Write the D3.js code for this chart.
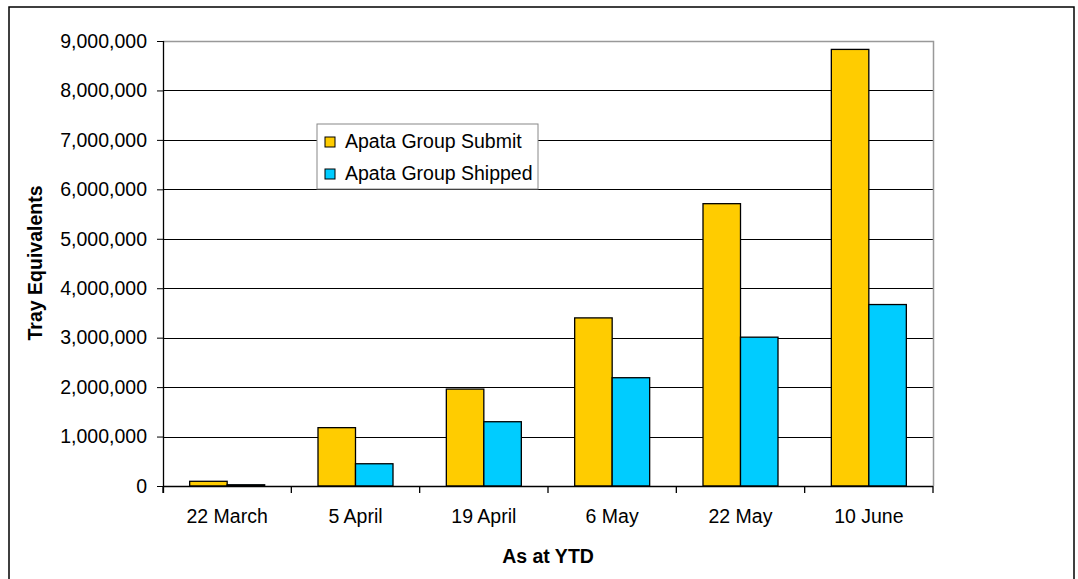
<!DOCTYPE html>
<html>
<head>
<meta charset="utf-8">
<script src="https://cdn.jsdelivr.net/npm/d3@7/dist/d3.min.js"></script>
<style>
  html, body { margin: 0; padding: 0; background: #fff; }
  svg { display: block; font-family: Arial, "Liberation Sans", sans-serif; }
</style>
</head>
<body>
<svg id="chart" width="1078" height="579"></svg>
<script>
const categories = ["22 March", "5 April", "19 April", "6 May", "22 May", "10 June"];
const seriesNames = ["Apata Group Submit", "Apata Group Shipped"];
const submitValues = [95000, 1180000, 1960000, 3400000, 5710000, 8830000];
const shippedValues = [25000, 450000, 1300000, 2190000, 3010000, 3670000];
const yTicks = [0, 1000000, 2000000, 3000000, 4000000, 5000000, 6000000, 7000000, 8000000, 9000000];
const seriesColors = ["#FFCC00", "#00CCFF"];
const yTitle = "Tray Equivalents";
const xTitle = "As at YTD";

const FS = 19.5;
const svg = d3.select("#chart");
const plot = { left: 163, right: 933, top: 41, bottom: 486 };

// outer border
svg.append("rect")
  .attr("x", 9).attr("y", 7)
  .attr("width", 1065).attr("height", 620)
  .attr("fill", "#fff").attr("stroke", "#000").attr("stroke-width", 1.5);

const y = d3.scaleLinear().domain([0, 9000000]).range([plot.bottom, plot.top]);
const p = 1 - 75 / ((plot.right - plot.left) / categories.length);
const x0 = d3.scaleBand().domain(categories).range([plot.left, plot.right])
  .paddingInner(p).paddingOuter(p / 2);
const x1 = d3.scaleBand().domain(seriesNames).range([0, x0.bandwidth()]);

// gridlines
svg.append("g").selectAll("line").data(yTicks.filter(d => d > 0 && d < 9000000)).join("line")
  .attr("x1", plot.left).attr("x2", plot.right)
  .attr("y1", d => Math.round(y(d)) + 0.5).attr("y2", d => Math.round(y(d)) + 0.5)
  .attr("stroke", "#000").attr("stroke-width", 1);

// plot area top & right border (grey)
svg.append("path")
  .attr("d", `M${plot.left},${plot.top + 0.5}H${plot.right + 0.5}V${plot.bottom}`)
  .attr("fill", "none").attr("stroke", "#999").attr("stroke-width", 1.5);

// bars
const data = categories.map((c, i) => ({ cat: c, vals: [submitValues[i], shippedValues[i]] }));
const groups = svg.append("g").selectAll("g").data(data).join("g")
  .attr("transform", d => `translate(${x0(d.cat)},0)`);
groups.selectAll("rect").data(d => d.vals.map((v, j) => ({ v, s: seriesNames[j], j }))).join("rect")
  .attr("x", d => x1(d.s))
  .attr("y", d => y(d.v))
  .attr("width", x1.bandwidth())
  .attr("height", d => plot.bottom - y(d.v))
  .attr("fill", d => seriesColors[d.j])
  .attr("stroke", "#000").attr("stroke-width", 1.3);

// y axis
const yAxis = d3.axisLeft(y).tickValues(yTicks).tickSize(6).tickPadding(10)
  .tickFormat(d3.format(","));
const gy = svg.append("g").attr("transform", `translate(${plot.left},0)`).call(yAxis);
gy.select(".domain").remove();
gy.selectAll(".tick line").attr("stroke", "#000");
gy.selectAll(".tick text").attr("font-size", FS).attr("font-family", "Arial, 'Liberation Sans', sans-serif").attr("fill", "#000");
svg.append("line").attr("x1", plot.left + 0.5).attr("x2", plot.left + 0.5)
  .attr("y1", plot.top).attr("y2", plot.bottom + 7).attr("stroke", "#000").attr("stroke-width", 1.3);

// x axis
svg.append("line").attr("x1", plot.left).attr("x2", plot.right)
  .attr("y1", plot.bottom + 0.5).attr("y2", plot.bottom + 0.5).attr("stroke", "#000").attr("stroke-width", 1.3);
const step = x0.step();
const bounds = d3.range(categories.length + 1).map(i => x0(categories[0]) - x0.paddingOuter() * step + i * step);
svg.append("g").selectAll("line").data(bounds).join("line")
  .attr("x1", d => d).attr("x2", d => d)
  .attr("y1", plot.bottom).attr("y2", plot.bottom + 7)
  .attr("stroke", "#000").attr("stroke-width", 1.3);
svg.append("g").selectAll("text").data(categories).join("text")
  .attr("x", d => x0(d) + x0.bandwidth() / 2)
  .attr("y", 523)
  .attr("text-anchor", "middle")
  .attr("font-size", FS)
  .text(d => d);

// axis titles
svg.append("text").attr("x", 548).attr("y", 563).attr("text-anchor", "middle")
  .attr("font-size", FS).attr("font-weight", "bold").text(xTitle);
svg.append("text").attr("transform", "translate(42,263) rotate(-90)").attr("text-anchor", "middle")
  .attr("font-size", FS).attr("font-weight", "bold").text(yTitle);

// legend
const lg = svg.append("g");
lg.append("rect").attr("x", 317).attr("y", 124).attr("width", 221).attr("height", 65)
  .attr("fill", "#fff").attr("stroke", "#888").attr("stroke-width", 1);
seriesNames.forEach((n, i) => {
  lg.append("rect").attr("x", 325).attr("y", 137 + i * 32).attr("width", 10).attr("height", 10)
    .attr("fill", seriesColors[i]).attr("stroke", "#000").attr("stroke-width", 1);
  lg.append("text").attr("x", 345).attr("y", 148 + i * 31.5).attr("font-size", FS).text(n);
});
</script>
</body>
</html>
